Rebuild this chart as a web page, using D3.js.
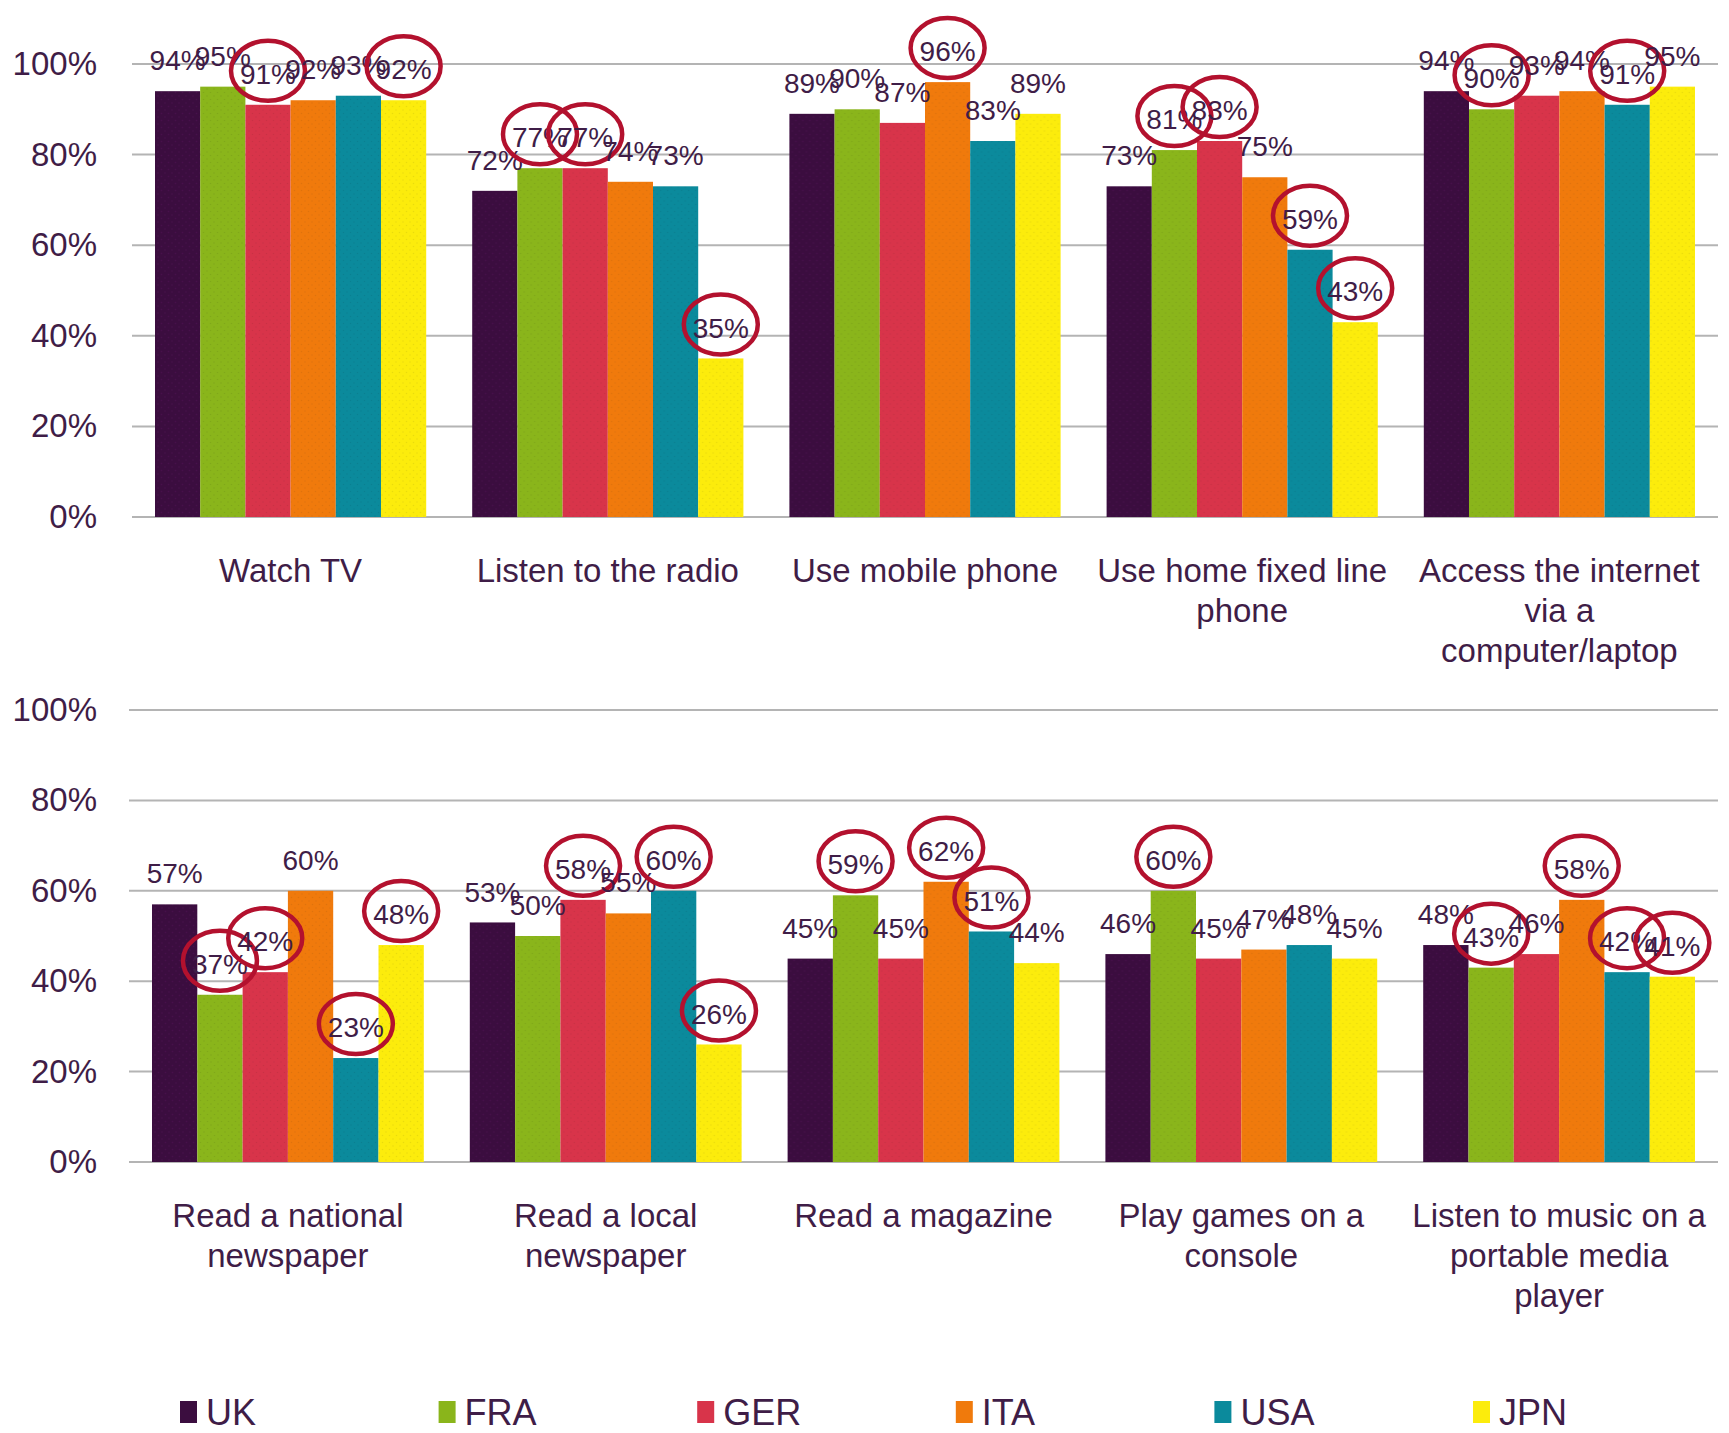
<!DOCTYPE html>
<html>
<head>
<meta charset="utf-8">
<script src="https://cdn.jsdelivr.net/npm/d3@7"></script>
<style>
  html, body { margin: 0; padding: 0; background: #ffffff; }
  svg { display: block; }
  text { font-family: "Liberation Sans", Arial, sans-serif; fill: #3f1d47; }
</style>
</head>
<body>
<script>
// ---------- DATA ----------
const categoriesTop = ["Watch TV", "Listen to the radio", "Use mobile phone", "Use home fixed line\nphone", "Access the internet\nvia a\ncomputer/laptop"];
const categoriesBottom = ["Read a national\nnewspaper", "Read a local\nnewspaper", "Read a magazine", "Play games on a\nconsole", "Listen to music on a\nportable media\nplayer"];
const countries = ["UK", "FRA", "GER", "ITA", "USA", "JPN"];
const colors = ["#3b0d3f", "#8ab51b", "#d8344a", "#f07a0c", "#0b8a9c", "#fcec0c"];
// values per country, top panel categories then bottom panel categories
const ukValues  = [94, 72, 89, 73, 94, 57, 53, 45, 46, 48];
const fraValues = [95, 77, 90, 81, 90, 37, 50, 59, 60, 43];
const gerValues = [91, 77, 87, 83, 93, 42, 58, 45, 45, 46];
const itaValues = [92, 74, 96, 75, 94, 60, 55, 62, 47, 58];
const usaValues = [93, 73, 83, 59, 91, 23, 60, 51, 48, 42];
const jpnValues = [92, 35, 89, 43, 95, 48, 26, 44, 45, 41];
// circled labels: [category index (0-9), country]
const circled = [
  [0, "GER"], [0, "JPN"],
  [1, "FRA"], [1, "GER"], [1, "JPN"],
  [2, "ITA"],
  [3, "FRA"], [3, "GER"], [3, "USA"], [3, "JPN"],
  [4, "FRA"], [4, "USA"],
  [5, "FRA"], [5, "GER"], [5, "USA"], [5, "JPN"],
  [6, "GER"], [6, "USA"], [6, "JPN"],
  [7, "FRA"], [7, "ITA"], [7, "USA"],
  [8, "FRA"],
  [9, "FRA"], [9, "ITA"], [9, "USA"], [9, "JPN"]
];
const yTicks = [0, 20, 40, 60, 80, 100];

// ---------- BUILD ----------
const seriesValues = [ukValues, fraValues, gerValues, itaValues, usaValues, jpnValues];
const circledSet = new Set(circled.map(d => d[0] + "|" + d[1]));

const W = 1729, H = 1433;
const svg = d3.select("body").append("svg").attr("width", W).attr("height", H);

// dotted patterns
const defs = svg.append("defs");
countries.forEach((c, i) => {
  const p = defs.append("pattern").attr("id", "pat" + c)
    .attr("patternUnits", "userSpaceOnUse").attr("width", 7).attr("height", 7);
  p.append("rect").attr("width", 7).attr("height", 7).attr("fill", colors[i]);
  const dot = d3.color(colors[i]);
  const dc = (c === "UK") ? dot.brighter(0.8) : dot.darker(0.35);
  p.append("circle").attr("cx", 1.5).attr("cy", 1.5).attr("r", 0.8).attr("fill", dc).attr("opacity", 0.6);
  p.append("circle").attr("cx", 5).attr("cy", 5).attr("r", 0.8).attr("fill", dc).attr("opacity", 0.6);
});

const panels = [
  { cats: categoriesTop, offset: 0, x0: 132, x1: 1718, yZero: 517, yTop: 64 },
  { cats: categoriesBottom, offset: 5, x0: 129, x1: 1718, yZero: 1162, yTop: 710 }
];

panels.forEach(pn => {
  const g = svg.append("g");
  const x = d3.scaleBand().domain(pn.cats).range([pn.x0, pn.x1]).padding(0);
  const pad = 23;
  const xi = d3.scaleBand().domain(countries).range([pad, x.bandwidth() - pad]).padding(0);
  const y = d3.scaleLinear().domain([0, 100]).range([pn.yZero, pn.yTop]);

  // gridlines
  g.selectAll("line.grid").data(yTicks).enter().append("line")
    .attr("x1", pn.x0).attr("x2", pn.x1)
    .attr("y1", d => y(d)).attr("y2", d => y(d))
    .attr("stroke", "#b4b4b4").attr("stroke-width", 2);

  // y axis labels via d3 axis
  const yAxis = d3.axisLeft(y).tickValues(yTicks).tickFormat(d => d + "%").tickSize(0).tickPadding(0);
  const ya = g.append("g").attr("transform", "translate(97,0)").call(yAxis);
  ya.select(".domain").remove();
  ya.selectAll("text").attr("font-size", 33).attr("fill", "#3f1d47")
    .attr("font-family", "Liberation Sans, Arial, sans-serif");

  // bars
  pn.cats.forEach((cat, ci) => {
    const idx = pn.offset + ci;
    const gg = g.append("g").attr("transform", `translate(${x(cat)},0)`);
    countries.forEach((c, si) => {
      const v = seriesValues[si][idx];
      gg.append("rect")
        .attr("x", xi(c)).attr("width", xi.bandwidth())
        .attr("y", y(v)).attr("height", y(0) - y(v))
        .attr("fill", "url(#pat" + c + ")");
    });
  });

  // labels + circles
  pn.cats.forEach((cat, ci) => {
    const idx = pn.offset + ci;
    const gg = g.append("g").attr("transform", `translate(${x(cat)},0)`);
    countries.forEach((c, si) => {
      const v = seriesValues[si][idx];
      const cx = xi(c) + xi.bandwidth() / 2;
      const cy = y(v) - 31;
      gg.append("text").attr("x", cx).attr("y", cy).attr("dy", "0.36em")
        .attr("text-anchor", "middle").attr("font-size", 28).text(v + "%");
      if (circledSet.has(idx + "|" + c)) {
        gg.append("ellipse").attr("cx", cx).attr("cy", cy - 3)
          .attr("rx", 37).attr("ry", 30)
          .attr("fill", "none").attr("stroke", "#b3112e").attr("stroke-width", 4.5);
      }
    });
  });

  // category labels
  pn.cats.forEach(cat => {
    const lines = cat.split("\n");
    const t = g.append("text").attr("text-anchor", "middle").attr("font-size", 33);
    lines.forEach((ln, li) => {
      t.append("tspan").attr("x", x(cat) + x.bandwidth() / 2)
        .attr("y", pn.yZero + 53 + li * 40).attr("dy", "0.36em").text(ln);
    });
  });
});

// legend
const lx = d3.scalePoint().domain(countries).range([180, 1473]);
const lg = svg.append("g");
countries.forEach((c, i) => {
  lg.append("rect").attr("x", lx(c)).attr("y", 1401).attr("width", 17).attr("height", 22)
    .attr("fill", colors[i]);
  lg.append("text").attr("x", lx(c) + 26).attr("y", 1412).attr("dy", "0.36em")
    .attr("font-size", 36).text(c);
});
</script>
</body>
</html>
